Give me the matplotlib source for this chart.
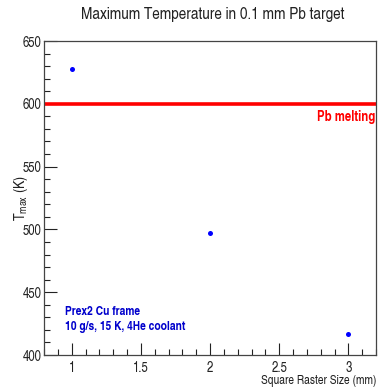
import matplotlib
matplotlib.use("Agg")
import matplotlib.pyplot as plt
from matplotlib.ticker import MultipleLocator, FuncFormatter

raster_mm = [1, 2, 3]
tmax_K = [628, 497, 417]
melting_K = 600
title = "Maximum Temperature in 0.1 mm Pb target"
xlabel = "Square Raster Size (mm)"
ylabel = r"T$_{\mathrm{max}}$ (K)"

fam = ['TeX Gyre Heros Cn', 'Liberation Sans', 'DejaVu Sans']
plt.rcParams['font.family'] = fam
plt.rcParams['mathtext.fontset'] = 'custom'
plt.rcParams['mathtext.rm'] = 'TeX Gyre Heros Cn'

fig = plt.figure(figsize=(3.82, 3.90), dpi=100)
W, H = 382, 390
ax = fig.add_axes([44 / W, 1 - 355 / H, (376 - 44) / W, (355 - 41) / H])

ax.scatter(raster_mm, tmax_K, s=13, color='#0000ff', zorder=3, linewidths=0)
ax.axhline(melting_K, color='#ff0000', lw=2.6, zorder=2)

ax.set_xlim(0.8, 3.2)
ax.set_ylim(400, 650)
ax.xaxis.set_major_locator(MultipleLocator(0.5))
ax.xaxis.set_minor_locator(MultipleLocator(0.1))
ax.yaxis.set_major_locator(MultipleLocator(50))
ax.yaxis.set_minor_locator(MultipleLocator(10))
ax.xaxis.set_major_formatter(FuncFormatter(lambda v, p: f"{v:g}"))
ax.tick_params(which='both', direction='in', top=False, right=False, labelsize=10, colors='#222222')
ax.tick_params(which='major', length=9, width=0.8)
ax.tick_params(which='minor', length=4.5, width=0.8)
ax.tick_params(axis='x', pad=4)
ax.tick_params(axis='y', pad=2)
for s in ax.spines.values():
    s.set_linewidth(0.9)
    s.set_color('#444444')

fig.text(213 / W, 1 - 15 / H, title, ha='center', va='center', fontsize=12, color='#222222')
fig.text(376 / W, 1 - 381 / H, xlabel, ha='right', va='center', fontsize=9, color='#222222')
fig.text(21 / W, 1 - 198 / H, ylabel, ha='center', va='center', rotation=90, fontsize=11, color='#222222')

ax.text(0.997, 1 - (117 - 41) / 314, "Pb melting", transform=ax.transAxes, ha='right', va='center',
        fontsize=10, fontweight='bold', color='#ff0000')
ax.text((65 - 44) / 332, 1 - (312 - 41) / 314, "Prex2 Cu frame", transform=ax.transAxes, ha='left', va='center',
        fontsize=9, fontweight='bold', color='#0000cc')
ax.text((65 - 44) / 332, 1 - (327 - 41) / 314, "10 g/s, 15 K, 4He coolant", transform=ax.transAxes, ha='left', va='center',
        fontsize=9, fontweight='bold', color='#0000cc')

fig.savefig("out.png", dpi=100)
